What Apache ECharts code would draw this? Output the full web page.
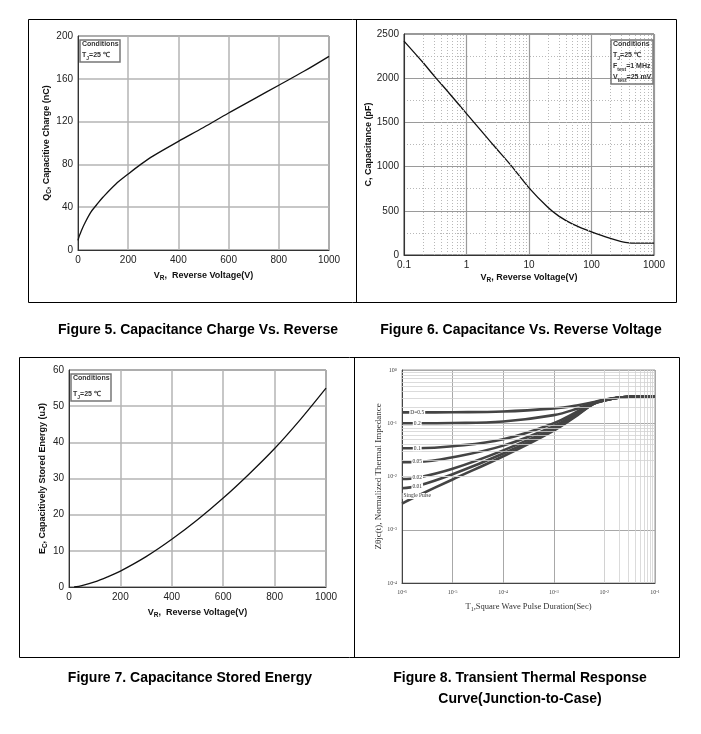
<!DOCTYPE html>
<html><head><meta charset="utf-8">
<script src="https://cdn.jsdelivr.net/npm/echarts@6/dist/echarts.min.js"></script>
<style>html,body{margin:0;padding:0;background:#fff}#c{width:701px;height:734px}</style>
</head><body><div id="c"></div>
<script>
// ---- Figure 5: Capacitive charge vs reverse voltage ----
const qcVoltage = [0, 5, 10, 25, 50, 75, 100, 150, 200, 250, 300, 400, 500, 600, 700, 800, 900, 1000];
const qcCharge  = [9, 13, 16, 24, 35, 42.5, 49.5, 61.5, 71, 80, 88, 101.5, 114.5, 128, 141, 154, 167, 181];

// ---- Figure 6: Capacitance vs reverse voltage ----
const capVoltage = [0.1, 0.2, 0.3, 0.5, 1, 2, 3, 5, 10, 20, 30, 50, 100, 200, 300, 400, 500, 1000];
const capValue   = [2420, 2180, 2030, 1850, 1600, 1350, 1205, 1025, 760, 540, 440, 350, 262, 188, 152, 137, 135, 135];

// ---- Figure 7: Stored energy ----
const ecVoltage = [20, 50, 100, 150, 200, 300, 400, 500, 600, 700, 800, 900, 1000];
const ecEnergy  = [0, 0.4, 1.4, 2.8, 4.4, 8.4, 13.2, 18.6, 24.6, 31.2, 38.3, 46.3, 55];

// ---- Figure 8: Transient thermal impedance ----
const pulseTime = [1e-6, 2e-6, 1e-5, 1e-4, 1e-3, 3e-3, 6e-3, 1e-2, 2e-2, 5e-2, 1e-1];
const zthD05  = [0.16, 0.16, 0.161, 0.166, 0.19, 0.218, 0.248, 0.277, 0.305, 0.318, 0.318];
const zthD02  = [0.10, 0.10, 0.101, 0.108, 0.142, 0.19, 0.242, 0.274, 0.305, 0.318, 0.318];
const zthD01  = [0.034, 0.034, 0.037, 0.05, 0.10, 0.168, 0.237, 0.272, 0.305, 0.318, 0.318];
const zthD005 = [0.0185, 0.0187, 0.023, 0.038, 0.088, 0.158, 0.234, 0.27, 0.305, 0.318, 0.318];
const zthD002 = [0.009, 0.0095, 0.014, 0.031, 0.081, 0.152, 0.232, 0.269, 0.305, 0.318, 0.318];
const zthD001 = [0.006, 0.0066, 0.011, 0.027, 0.077, 0.148, 0.23, 0.268, 0.305, 0.318, 0.318];
const zthSingle = [0.0031, 0.0043, 0.0088, 0.024, 0.073, 0.144, 0.228, 0.267, 0.305, 0.318, 0.318];
const zthSeries = [
  {name: 'D=0.5', data: zthD05},
  {name: '0.2', data: zthD02},
  {name: '0.1', data: zthD01},
  {name: '0.05', data: zthD005},
  {name: '0.02', data: zthD002},
  {name: '0.01', data: zthD001},
  {name: 'Single Pulse', data: zthSingle}
];

// tick / gridline lists
const minorMult = [2, 3, 4, 5, 6, 7, 8, 9];
const capDecades = [0.1, 1, 10, 100];
const zthXDecades = [1e-6, 1e-5, 1e-4, 1e-3, 1e-2];
const zthYDecades = [1e-4, 1e-3, 1e-2, 1e-1];

const SANS = '"Liberation Sans", Arial, sans-serif';
const SERIF = '"Liberation Serif", "DejaVu Serif", serif';

function zip(a, b) { return a.map((v, i) => [v, b[i]]); }
function minors(decs) { const r = []; decs.forEach(d => minorMult.forEach(m => r.push(+(d * m).toPrecision(6)))); return r; }

const nameRich = {
  n: {fontSize: 9, fontWeight: 'bold', fontFamily: SANS, color: '#111', lineHeight: 12},
  s: {fontSize: 6.5, fontWeight: 'bold', fontFamily: SANS, color: '#111', lineHeight: 6, verticalAlign: 'bottom'}
};
const tickLabel = {fontSize: 10, fontFamily: SANS, color: '#222'};
const gridLine = {show: true, lineStyle: {color: '#b4b4b4', width: 1.5}};

function linAxis(gi, min, max, interval, name, nameGap, isY) {
  return {
    type: 'value', gridIndex: gi, min, max, interval,
    name, nameLocation: 'middle', nameGap, nameRotate: isY ? 90 : 0,
    nameTextStyle: {rich: nameRich},
    axisLine: {show: true, lineStyle: {color: '#333', width: 1}},
    axisTick: {show: false},
    axisLabel: Object.assign({margin: 5, formatter: v => String(v)}, tickLabel),
    splitLine: gridLine
  };
}

const condRich = {
  n: {fontSize: 7, fontFamily: SANS, color: '#333', lineHeight: 11},
  s: {fontSize: 5, fontFamily: SANS, color: '#333', lineHeight: 7, verticalAlign: 'bottom'},
  g: {fontSize: 2, lineHeight: 5}
};
function condBox(text, left, top) {
  return {text, left, top, padding: [1, 2, 1, 2], borderColor: '#777', borderWidth: 1.5,
    textStyle: {rich: condRich}};
}

const expRich = {
  b: {fontSize: 6, fontFamily: SERIF, color: '#444'},
  e: {fontSize: 4.5, fontFamily: SERIF, color: '#444', verticalAlign: 'top', lineHeight: 4}
};
function expFmt(v) { const e = Math.round(Math.log10(v)); return '{b|10}{e|' + e + '}'; }

function gridMarkX(vals, style) {
  return {silent: true, symbol: 'none', label: {show: false}, animation: false,
    lineStyle: style, data: vals.map(v => ({xAxis: v}))};
}
function gridMarkY(vals, style) {
  return {silent: true, symbol: 'none', label: {show: false}, animation: false,
    lineStyle: style, data: vals.map(v => ({yAxis: v}))};
}

const minorDot = {type: [1, 2], color: '#b8b8b8', width: 1};
const minorLog = {type: 'solid', color: '#d2d2d2', width: 0.8};

const chart = echarts.init(document.getElementById('c'), null, {renderer: 'canvas'});

const capText = (t, x, y) => ({type: 'text', x, y, style: {text: t, textAlign: 'center', textVerticalAlign: 'middle', fontSize: 14, fontWeight: 'bold', fontFamily: SANS, fill: '#000'}});

const option = {
  animation: false,
  backgroundColor: '#fff',
  grid: [
    {left: 78, top: 36, width: 251, height: 214, show: true, borderColor: '#333', borderWidth: 1},
    {left: 404, top: 34, width: 250, height: 221, show: true, borderColor: '#333', borderWidth: 1},
    {left: 69, top: 370, width: 257, height: 217, show: true, borderColor: '#333', borderWidth: 1},
    {left: 402, top: 370, width: 253, height: 213, show: true, borderColor: '#999', borderWidth: 1}
  ],
  title: [
    condBox('{n|Conditions}\n{n|T}{s|J}{n|=25 ℃}', 80, 38),
    condBox('{n|Conditions}\n{n|T}{s|J}{n|=25 ℃}\n{n|F}{s|test}{n|=1 MHz}\n{n|V}{s|test}{n|=25 mV}', 611, 38),
    condBox('{n|Conditions}\n{g| }\n{n|T}{s|J}{n|=25 ℃}', 71, 372)
  ],
  xAxis: [
    linAxis(0, 0, 1000, 200, '{n|V}{s|R}{n|,  Reverse Voltage(V)}', 20, false),
    {
      type: 'log', gridIndex: 1, min: 0.1, max: 1000, logBase: 10,
      name: '{n|V}{s|R}{n|, Reverse Voltage(V)}', nameLocation: 'middle', nameGap: 17,
      nameTextStyle: {rich: nameRich},
      axisLine: {show: true, lineStyle: {color: '#333'}}, axisTick: {show: false},
      axisLabel: Object.assign({margin: 5, formatter: v => String(v)}, tickLabel),
      splitLine: {show: true, lineStyle: {color: '#9a9a9a', width: 1.2}}
    },
    linAxis(2, 0, 1000, 200, '{n|V}{s|R}{n|,  Reverse Voltage(V)}', 20, false),
    {
      type: 'log', gridIndex: 3, min: 1e-6, max: 1e-1, logBase: 10,
      name: '{n|T}{s|1}{n|,Square Wave Pulse Duration(Sec)}', nameLocation: 'middle', nameGap: 18,
      nameTextStyle: {rich: {
        n: {fontSize: 8.5, fontFamily: SERIF, color: '#333', lineHeight: 11},
        s: {fontSize: 6, fontFamily: SERIF, color: '#333', lineHeight: 6, verticalAlign: 'bottom'}}},
      axisLine: {show: true, lineStyle: {color: '#444'}}, axisTick: {show: false},
      axisLabel: {margin: 6, formatter: expFmt, rich: expRich},
      splitLine: {show: true, lineStyle: {color: '#a8a8a8', width: 1}}
    }
  ],
  yAxis: [
    linAxis(0, 0, 200, 40, '{n|Q}{s|C}{n|, Capacitive Charge (nC)}', 21, true),
    Object.assign(linAxis(1, 0, 2500, 500, '{n|C, Capacitance (pF)}', 26, true), {
      splitLine: {show: true, lineStyle: {color: '#9a9a9a', width: 1.2}},
      minorTick: {show: false, splitNumber: 2},
      minorSplitLine: {show: true, lineStyle: minorDot}
    }),
    linAxis(2, 0, 60, 10, '{n|E}{s|C}{n|, Capacitively Stored Energy (uJ)}', 18, true),
    {
      type: 'log', gridIndex: 3, min: 1e-4, max: 1, logBase: 10,
      name: 'Zθjc(t), Normalized Thermal Impedance', nameLocation: 'middle', nameGap: 14,
      nameTextStyle: {fontSize: 9, fontFamily: SERIF, color: '#333'},
      axisLine: {show: true, lineStyle: {color: '#444'}}, axisTick: {show: false},
      axisLabel: {margin: 5, formatter: expFmt, rich: expRich},
      splitLine: {show: true, lineStyle: {color: '#a8a8a8', width: 1}}
    }
  ],
  series: [
    {type: 'line', xAxisIndex: 0, yAxisIndex: 0, data: zip(qcVoltage, qcCharge), smooth: 0.35,
      showSymbol: false, lineStyle: {color: '#111', width: 1.3}},
    // minor grid for Figure 6
    {type: 'line', xAxisIndex: 1, yAxisIndex: 1, data: [], markLine: gridMarkX(minors(capDecades), minorDot)},
    {type: 'line', xAxisIndex: 1, yAxisIndex: 1, data: zip(capVoltage, capValue), smooth: 0.25,
      showSymbol: false, lineStyle: {color: '#111', width: 1.3}},
    {type: 'line', xAxisIndex: 2, yAxisIndex: 2, data: zip(ecVoltage, ecEnergy), smooth: 0.3,
      showSymbol: false, lineStyle: {color: '#111', width: 1.3}},
    // minor grid for Figure 8
    {type: 'line', xAxisIndex: 3, yAxisIndex: 3, data: [], markLine: gridMarkX(minors(zthXDecades), minorLog)},
    {type: 'line', xAxisIndex: 3, yAxisIndex: 3, data: [], markLine: gridMarkY(minors(zthYDecades), minorLog)}
  ].concat(zthSeries.map(s => ({
    type: 'line', xAxisIndex: 3, yAxisIndex: 3, name: s.name,
    data: zip(pulseTime, s.data), smooth: 0.4, showSymbol: false,
    lineStyle: {color: '#444', width: 2.6},
    markPoint: {
      symbol: 'rect', symbolSize: [1, 1], itemStyle: {color: 'rgba(0,0,0,0)'}, silent: true,
      label: {show: true, position: 'inside', formatter: s.name, fontSize: 5.5, fontFamily: SERIF,
        color: '#333', backgroundColor: '#fff', padding: [0, 1]},
      data: [{coord: [pulseTime[1], s.data[1]]}]
    }
  }))),
  graphic: [
    {type: 'rect', shape: {x: 28.5, y: 19.5, width: 648, height: 283}, style: {fill: 'none', stroke: '#000', lineWidth: 1}},
    {type: 'line', shape: {x1: 356.5, y1: 19.5, x2: 356.5, y2: 302.5}, style: {stroke: '#000', lineWidth: 1}},
    {type: 'rect', shape: {x: 19.5, y: 357.5, width: 660, height: 300}, style: {fill: 'none', stroke: '#000', lineWidth: 1}},
    {type: 'line', shape: {x1: 354.5, y1: 357.5, x2: 354.5, y2: 657.5}, style: {stroke: '#000', lineWidth: 1}},
    capText('Figure 5. Capacitance Charge Vs. Reverse', 198, 330),
    capText('Figure 6. Capacitance Vs. Reverse Voltage', 521, 330),
    capText('Figure 7. Capacitance Stored Energy', 190, 678),
    capText('Figure 8. Transient Thermal Response', 520, 678),
    capText('Curve(Junction-to-Case)', 520, 699)
  ]
};
chart.setOption(option);
</script>
</body></html>
